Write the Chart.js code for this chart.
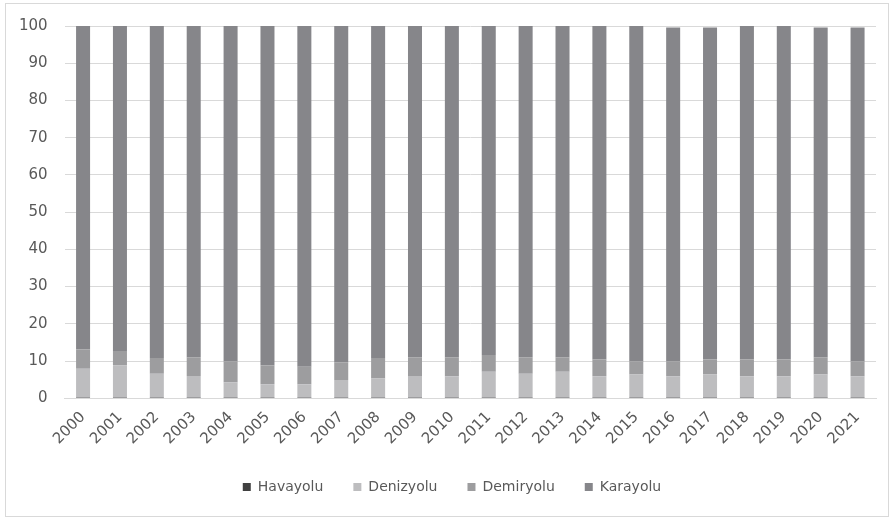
<!DOCTYPE html>
<html>
<head>
<meta charset="utf-8">
<script src="https://cdn.jsdelivr.net/npm/chart.js@4/dist/chart.umd.min.js"></script>
<style>
    body { margin: 0; background: #fff; }
    #box {
        position: absolute; left: 5px; top: 3px;
        width: 884px; height: 514px;
        border: 1px solid #d9d9d9; box-sizing: border-box;
    }
    canvas { display: block; }
</style>
</head>
<body>
<div id="box"><canvas id="chart"></canvas></div>
<script>
// Yillar
const years = ['2000', '2001', '2002', '2003', '2004', '2005', '2006', '2007', '2008', '2009', '2010',
    '2011', '2012', '2013', '2014', '2015', '2016', '2017', '2018', '2019', '2020', '2021'];

// Taşıma türlerine göre pay (%)
const havayolu = [0.1, 0.1, 0.1, 0.1, 0.1, 0.1, 0.1, 0.1, 0.1, 0.1, 0.1,
    0.1, 0.1, 0.1, 0.1, 0.1, 0.1, 0.1, 0.1, 0.1, 0.1, 0.1];
const denizyolu = [7.8, 8.7, 6.5, 5.9, 4.2, 3.7, 3.7, 4.8, 5.2, 5.9, 5.8,
    7.0, 6.5, 7.0, 5.8, 6.3, 5.8, 6.3, 5.8, 5.8, 6.3, 5.8];
const demiryolu = [5.2, 3.9, 4.2, 5.0, 5.6, 5.0, 4.7, 4.8, 5.5, 5.0, 5.1,
    4.5, 4.4, 3.9, 4.5, 3.5, 4.0, 4.0, 4.5, 4.5, 4.6, 4.0];
const karayolu = [86.9, 87.3, 89.2, 89.0, 90.1, 91.2, 91.5, 90.3, 89.2, 89.0, 89.0,
    88.4, 89.0, 89.0, 89.6, 90.1, 89.7, 89.2, 89.6, 89.6, 88.6, 89.7];

const yTicks = [0, 10, 20, 30, 40, 50, 60, 70, 80, 90, 100];

const font = { family: 'DejaVu Sans, sans-serif', size: 15 };
const textColor = '#595959';

function series(label, data, color) {
    return {
        label: label,
        data: data,
        backgroundColor: color,
        borderWidth: 0,
        barPercentage: 0.38,
        categoryPercentage: 1.0
    };
}

// legend in the original sits a little right of centre
const shiftLegend = {
    id: 'shiftLegend',
    afterLayout(chart) {
        chart.legend.left += 11;
        chart.legend.right += 11;
    }
};

new Chart(document.getElementById('chart'), {
    type: 'bar',
    data: {
        labels: years,
        datasets: [
            series('Havayolu', havayolu, '#404040'),
            series('Denizyolu', denizyolu, '#bdbdbf'),
            series('Demiryolu', demiryolu, '#9d9d9f'),
            series('Karayolu', karayolu, '#86868a')
        ]
    },
    plugins: [shiftLegend],
    options: {
        responsive: true,
        maintainAspectRatio: false,
        animation: false,
        layout: { padding: { top: 0, right: 12, left: 0, bottom: 12 } },
        plugins: {
            legend: {
                position: 'bottom',
                labels: {
                    boxWidth: 8,
                    boxHeight: 8,
                    padding: 30,
                    color: textColor,
                    font: { family: font.family, size: 14 }
                }
            },
            tooltip: { enabled: false }
        },
        scales: {
            x: {
                stacked: true,
                grid: { display: false },
                border: { color: '#d9d9d9' },
                ticks: {
                    color: textColor,
                    font: font,
                    minRotation: 45,
                    maxRotation: 45,
                    padding: 2
                }
            },
            y: {
                stacked: true,
                min: 0,
                max: 100,
                afterBuildTicks: function(axis) {
                    axis.ticks = yTicks.map(v => ({ value: v }));
                },
                grid: { color: '#d9d9d9', drawTicks: true, tickLength: 4, tickColor: 'rgba(0,0,0,0)' },
                border: { display: false },
                ticks: {
                    color: textColor,
                    font: font,
                    padding: 13
                }
            }
        }
    }
});
</script>
</body>
</html>
